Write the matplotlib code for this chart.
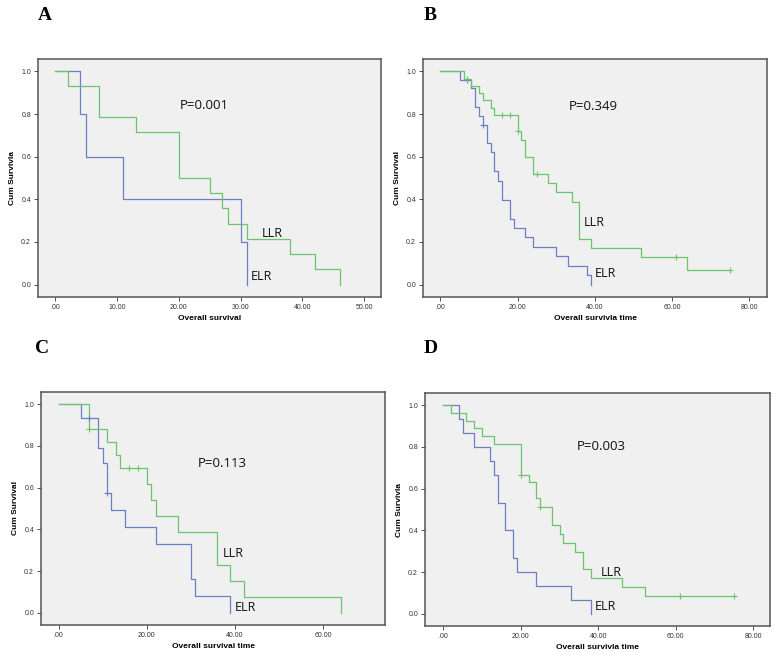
import matplotlib
matplotlib.use("Agg")
import matplotlib.pyplot as plt

# ---------------------------------------------------------------------------
# Kaplan-Meier step data (time, survival)
# ---------------------------------------------------------------------------
a_elr_t = [0, 4, 5, 11, 30, 31]
a_elr_s = [1.0, 0.8, 0.6, 0.4, 0.2, 0.0]
a_llr_t = [0, 2, 7, 13, 20, 25, 27, 28, 31, 38, 42, 46]
a_llr_s = [1.0, 0.929, 0.786, 0.714, 0.5, 0.429, 0.357, 0.286, 0.214, 0.143, 0.071, 0.0]
a_elr_ct, a_elr_cs = [], []
a_llr_ct, a_llr_cs = [], []

b_elr_t = [0, 5, 8, 9, 10, 11, 12, 13, 14, 15, 16, 18, 19, 22, 24, 30, 33, 38, 39]
b_elr_s = [1.0, 0.96, 0.92, 0.835, 0.79, 0.75, 0.663, 0.62, 0.531, 0.486, 0.398,
           0.309, 0.265, 0.221, 0.177, 0.133, 0.088, 0.044, 0.0]
b_llr_t = [0, 6, 8, 10, 11, 13, 14, 20, 21, 22, 24, 28, 30, 34, 36, 39, 52, 64, 75]
b_llr_s = [1.0, 0.965, 0.932, 0.898, 0.864, 0.83, 0.796, 0.722, 0.68, 0.60, 0.519,
           0.475, 0.432, 0.389, 0.216, 0.173, 0.13, 0.067, 0.067]
b_elr_ct, b_elr_cs = [7, 11], [0.96, 0.75]
b_llr_ct = [7, 16, 18, 20, 25, 61, 75]
b_llr_cs = [0.965, 0.796, 0.796, 0.722, 0.519, 0.13, 0.067]

c_elr_t = [0, 5, 9, 10, 11, 12, 15, 22, 30, 31, 39]
c_elr_s = [1.0, 0.932, 0.79, 0.717, 0.574, 0.491, 0.41, 0.328, 0.164, 0.082, 0.0]
c_llr_t = [0, 7, 11, 13, 14, 20, 21, 22, 27, 36, 39, 42, 64]
c_llr_s = [1.0, 0.882, 0.82, 0.755, 0.693, 0.617, 0.539, 0.462, 0.385, 0.231,
           0.154, 0.077, 0.0]
c_elr_ct, c_elr_cs = [7, 11], [0.932, 0.574]
c_llr_ct, c_llr_cs = [7, 16, 18], [0.882, 0.693, 0.693]

d_elr_t = [0, 4, 5, 8, 12, 13, 14, 16, 18, 19, 24, 33, 38]
d_elr_s = [1.0, 0.933, 0.867, 0.8, 0.733, 0.667, 0.533, 0.4, 0.267, 0.2, 0.133, 0.067, 0.0]
d_llr_t = [0, 2, 6, 8, 10, 13, 20, 22, 24, 25, 28, 30, 31, 34, 36, 38, 46, 52, 75]
d_llr_s = [1.0, 0.963, 0.926, 0.889, 0.852, 0.815, 0.667, 0.63, 0.556, 0.512, 0.426,
           0.383, 0.341, 0.298, 0.213, 0.17, 0.128, 0.085, 0.085]
d_elr_ct, d_elr_cs = [], []
d_llr_ct, d_llr_cs = [20, 25, 61, 75], [0.667, 0.512, 0.085, 0.085]

p_values = ["P=0.001", "P=0.349", "P=0.113", "P=0.003"]
panel_letters = ["A", "B", "C", "D"]
y_labels = ["Cum Survivla", "Cum Survival", "Cum Survival", "Cum Survivla"]
x_labels = ["Overall survival", "Overall survivla time",
            "Overall survival time", "Overall survivla time"]
x_ticks = [[0, 10, 20, 30, 40, 50], [0, 20, 40, 60, 80],
           [0, 20, 40, 60], [0, 20, 40, 60, 80]]
y_ticks = [0.0, 0.2, 0.4, 0.6, 0.8, 1.0]

BLUE = "#6f7fc4"
GREEN = "#6cc46c"

# axes rectangles in figure fraction, x limits, text anchors (data coords)
layout = [
    dict(rect=[0.0487, 0.5514, 0.4391, 0.3595], xlim=(-2.8, 52.7),
         p=(20.2, 0.838), llr=(33.4, 0.24), elr=(31.7, 0.04), letter=(0.048, 0.976)),
    dict(rect=[0.5416, 0.5514, 0.4405, 0.3595], xlim=(-4.5, 84.6),
         p=(33.2, 0.835), llr=(37.1, 0.29), elr=(39.9, 0.052), letter=(0.542, 0.976)),
    dict(rect=[0.0525, 0.0559, 0.4405, 0.3520], xlim=(-4.0, 74.1),
         p=(31.6, 0.717), llr=(37.3, 0.285), elr=(39.9, 0.025), letter=(0.045, 0.474)),
    dict(rect=[0.5442, 0.0544, 0.4417, 0.3519], xlim=(-4.7, 84.3),
         p=(34.4, 0.80), llr=(40.7, 0.20), elr=(39.1, 0.033), letter=(0.542, 0.474)),
]

curves = [
    (a_elr_t, a_elr_s, a_elr_ct, a_elr_cs, a_llr_t, a_llr_s, a_llr_ct, a_llr_cs),
    (b_elr_t, b_elr_s, b_elr_ct, b_elr_cs, b_llr_t, b_llr_s, b_llr_ct, b_llr_cs),
    (c_elr_t, c_elr_s, c_elr_ct, c_elr_cs, c_llr_t, c_llr_s, c_llr_ct, c_llr_cs),
    (d_elr_t, d_elr_s, d_elr_ct, d_elr_cs, d_llr_t, d_llr_s, d_llr_ct, d_llr_cs),
]

fig = plt.figure(figsize=(7.81, 6.62), dpi=100)
fig.patch.set_facecolor("white")

for i, lay in enumerate(layout):
    ax = fig.add_axes(lay["rect"])
    ax.set_facecolor("#f0f0f0")
    et, es, ect, ecs, lt, ls, lct, lcs = curves[i]

    ax.step(et, es, where="post", color=BLUE, lw=0.9)
    ax.step(lt, ls, where="post", color=GREEN, lw=0.9)
    if ect:
        ax.plot(ect, ecs, ls="none", marker="+", ms=4, mew=0.8, color=BLUE)
    if lct:
        ax.plot(lct, lcs, ls="none", marker="+", ms=4, mew=0.8, color=GREEN)

    ax.set_xlim(*lay["xlim"])
    ax.set_ylim(-0.058, 1.058)
    ax.set_xticks(x_ticks[i])
    ax.set_xticklabels([".00" if v == 0 else f"{v:.2f}" for v in x_ticks[i]])
    ax.set_yticks(y_ticks)
    ax.set_yticklabels([f"{v:.1f}" for v in y_ticks])
    ax.tick_params(direction="out", length=3, width=0.6, labelsize=5,
                   colors="#333333", pad=2)
    for lbl in ax.get_xticklabels() + ax.get_yticklabels():
        lbl.set_family("Liberation Sans")

    for sp in ax.spines.values():
        sp.set_color("#555555")
        sp.set_linewidth(1.1)

    ax.set_xlabel(x_labels[i], fontsize=6, fontweight="bold",
                  family="Liberation Sans", labelpad=3)
    ax.set_ylabel(y_labels[i], fontsize=6, fontweight="bold",
                  family="Liberation Sans", labelpad=4)

    ax.text(*lay["p"], p_values[i], fontsize=9.5, family="Open Sans",
            ha="left", va="center", color="#111111")
    ax.text(*lay["llr"], "LLR", fontsize=9, family="Open Sans",
            ha="left", va="center", color="#111111")
    ax.text(*lay["elr"], "ELR", fontsize=9, family="Open Sans",
            ha="left", va="center", color="#111111")

    fig.text(*lay["letter"], panel_letters[i], fontsize=14, fontweight="bold",
             family="Liberation Serif", ha="left", va="center")

fig.savefig("out.png", dpi=100)
